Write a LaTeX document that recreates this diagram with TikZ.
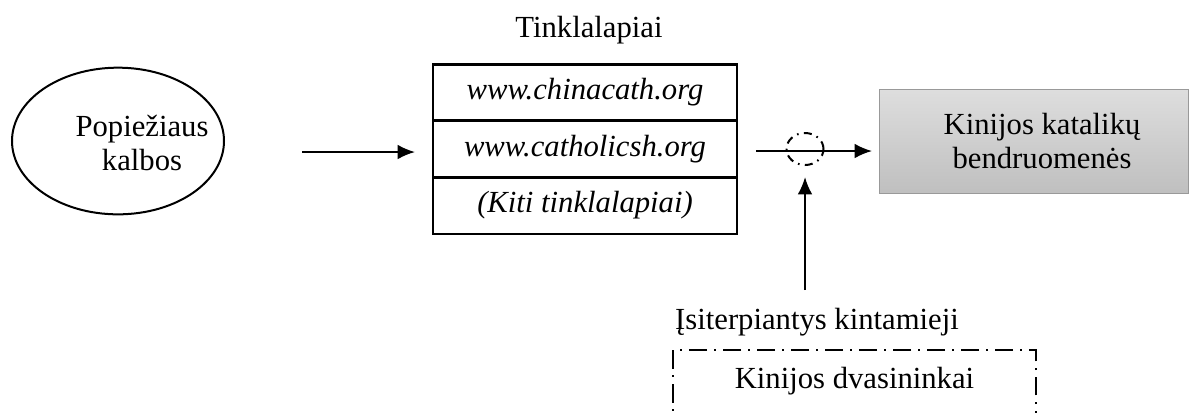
\documentclass[tikz,border=0pt]{standalone}
\usepackage{fontspec}
\setmainfont{Liberation Serif}
\usetikzlibrary{arrows.meta}
\usetikzlibrary{shapes.geometric}

\tikzset{
  rodykle/.style={line width=1.5pt,-{Latex[length=13pt,width=11pt]}},
  langelis/.style={draw,line width=2pt,minimum width=228pt,minimum height=42.4pt,inner sep=0pt,outer sep=0pt,
    font=\fontsize{23}{26}\selectfont\itshape},
  taskbruks/.style={line width=1.5pt,dash pattern=on 14pt off 5pt on 1.5pt off 5pt},
}

\begin{document}
\begin{tikzpicture}[x=0.75pt,y=-0.75pt,font=\fontsize{23}{26}\selectfont]
\useasboundingbox (0,0) rectangle (1195,412);
\def\eilutE{152}
\node[draw,ellipse,line width=1.5pt,minimum width=159pt,minimum height=110pt,
  inner sep=0pt] (kalbos) at (118,141) {};
\node[align=center] (kalbostxt) at (142,143) {Popiežiaus\\kalbos};
\node[langelis] (tinkl1) at (585,92.5) {www.chinacath.org};
\node[langelis,anchor=north] (tinkl2) at (tinkl1.south) {www.catholicsh.org};
\node[langelis,anchor=north] (tinkl3) at (tinkl2.south) {(Kiti tinklalapiai)};
\node (antraste) at (589,30) {Tinklalapiai};
\node[draw=black!40,line width=0.6pt,top color=black!13,bottom color=black!25,
  minimum width=231.75pt,minimum height=78pt,inner sep=0pt]
  (bendruomenes) at (1033.5,141) {};
\node[align=center] (bendrtxt) at (1042,141) {Kinijos katalikų\\bendruomenės};
\node[draw,ellipse,taskbruks,dash pattern=on 6pt off 4pt on 1.2pt off 4pt,
  minimum width=27.75pt,minimum height=24pt,inner sep=0pt] (filtras) at (805,149) {};
\node (isiterp) at (817,322) {Įsiterpiantys kintamieji};
\node[draw,taskbruks,anchor=north,minimum width=272pt,inner sep=0pt,
  text height=29pt,text depth=39pt] (dvasininkai) at (854.5,349) {Kinijos dvasininkai};
% rodykles
\coordinate (a1) at (302,\eilutE);
\coordinate (a2) at (415,\eilutE);
\coordinate (b1) at (756,151);
\coordinate (b2) at (872,151);
\coordinate (c1) at (805,290);
\coordinate (c2) at (805,177);
\draw[rodykle] (a1) -- (a2);
\draw[rodykle] (b1) -- (b2);
\draw[rodykle] (c1) -- (c2);
\end{tikzpicture}
\end{document}
